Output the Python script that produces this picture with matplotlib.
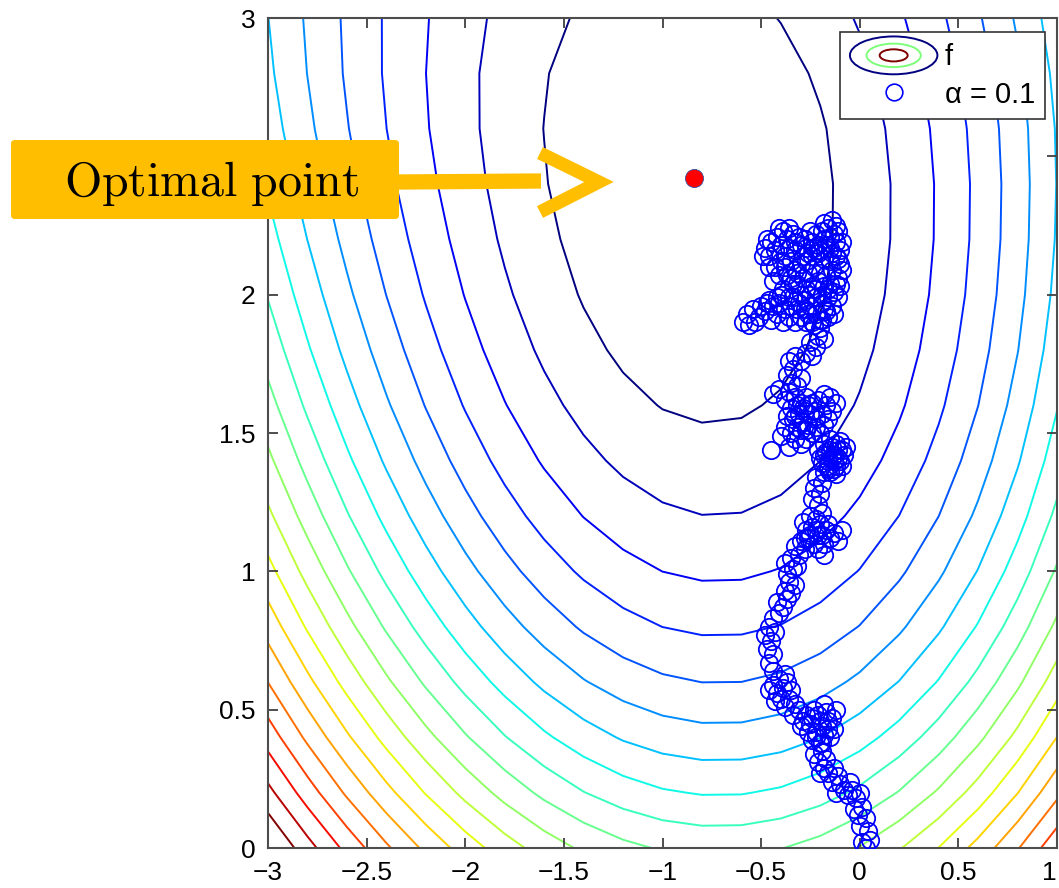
import numpy as np
import matplotlib
matplotlib.use("Agg")
import matplotlib.pyplot as plt
from matplotlib.legend_handler import HandlerBase
from matplotlib.patches import Ellipse, FancyBboxPatch
from matplotlib.lines import Line2D

plt.rcParams['font.family'] = ['Liberation Sans', 'DejaVu Sans']
plt.rcParams['mathtext.fontset'] = 'cm'

# ---------------- data ----------------
# surface f(x, y): ridge centre, curvature and vertical profile (level units)
x_grid = np.linspace(-3, 1, 21)
y_grid = np.linspace(0, 3, 16)
curv_coef = [2.5, -0.2, -0.0215]          # A(y) = c0 + c1*y + c2*y^2
ridge_coef = [-0.72, 0.0388, -0.0374]     # xc(y)
skew = 0.05
y_opt = 2.42
below_coef = [1.028, 0.26]
above_coef = 1.55
levels = [1, 2, 3, 4, 5, 6, 7, 8, 9, 10, 11, 12, 13, 14, 15, 16, 17, 18, 19, 20]

opt_x = [-0.839]
opt_y = [2.42]

traj_x = [0.03, 0.05, 0.01, 0.04, 0.00, 0.03, -0.01, 0.01, -0.03, -0.02, 0.00, -0.04, -0.06, -0.08,
          -0.05, -0.10, -0.12, -0.11, -0.14, -0.16, -0.13, -0.18, -0.20, -0.21, -0.17, -0.19, -0.23,
          -0.20, -0.24, -0.18, -0.15, -0.13, -0.16, -0.19, -0.22, -0.25, -0.21, -0.17, -0.14, -0.12,
          -0.18, -0.23, -0.27, -0.29, -0.26, -0.30,
          -0.20, -0.16, -0.24, -0.22, -0.19,
          -0.31, -0.34, -0.33, -0.36, -0.38, -0.40, -0.42, -0.39, -0.44, -0.41, -0.37, -0.35, -0.43,
          -0.46, -0.38,
          -0.44, -0.46, -0.44, -0.47, -0.45, -0.48, -0.46, -0.43, -0.44, -0.41, -0.42, -0.39, -0.37,
          -0.38, -0.35, -0.36, -0.33, -0.37, -0.34, -0.38, -0.35, -0.32,
          -0.31, -0.28, -0.30, -0.26, -0.23, -0.21, -0.24, -0.27, -0.20, -0.17, -0.15, -0.18, -0.13,
          -0.09, -0.11, -0.22, -0.25, -0.19, -0.29, -0.33,
          -0.25, -0.22, -0.19, -0.16, -0.28, -0.21, -0.18,
          -0.21, -0.24, -0.20, -0.23, -0.19, -0.22, -0.18,
          -0.15, -0.12, -0.10, -0.13, -0.16, -0.19, -0.17, -0.14, -0.11, -0.08, -0.09, -0.12, -0.07,
          -0.10, -0.15, -0.18, -0.21, -0.20, -0.13, -0.16,
          -0.14, -0.11, -0.18, -0.15, -0.12, -0.09, -0.16, -0.13,
          -0.24, -0.27, -0.30, -0.33, -0.36, -0.35, -0.32, -0.29, -0.26, -0.38, -0.40, -0.45, -0.37,
          -0.34, -0.31, -0.28,
          -0.22, -0.20, -0.18, -0.16, -0.23, -0.26, -0.29, -0.32, -0.35, -0.33, -0.30, -0.27,
          -0.25, -0.22, -0.19, -0.17, -0.14, -0.12, -0.15, -0.18, -0.21, -0.24, -0.27, -0.30, -0.33,
          -0.36, -0.38, -0.35, -0.32, -0.30, -0.44, -0.41,
          -0.37, -0.34, -0.36, -0.33, -0.30, -0.27, -0.24, -0.22, -0.25, -0.21, -0.18, -0.20, -0.23,
          -0.19, -0.17,
          -0.27, -0.30, -0.33, -0.36, -0.39, -0.42, -0.45, -0.48, -0.51, -0.54, -0.57, -0.59, -0.56,
          -0.53, -0.50, -0.47, -0.44, -0.41, -0.38, -0.35, -0.32,
          -0.28, -0.25, -0.22, -0.19, -0.16, -0.13, -0.15, -0.18, -0.21, -0.24, -0.27, -0.30, -0.32,
          -0.29, -0.26, -0.23, -0.20, -0.17, -0.14, -0.11, -0.10, -0.12, -0.15, -0.18, -0.21, -0.24,
          -0.27, -0.30, -0.33, -0.35, -0.38, -0.36, -0.33, -0.30, -0.27, -0.24, -0.21, -0.18, -0.15,
          -0.12, -0.10, -0.13, -0.16, -0.12, -0.19, -0.34, -0.37, -0.40, -0.43, -0.46, -0.48, -0.45,
          -0.42, -0.39, -0.36, -0.31, -0.40, -0.43, -0.37, -0.34, -0.39, -0.36, -0.31, -0.26, -0.22,
          -0.18, -0.14, -0.11, -0.10,
          -0.44, -0.41, -0.46, -0.38, -0.35, -0.32, -0.29, -0.26, -0.23, -0.20, -0.17, -0.14, -0.11,
          -0.09, -0.09, -0.12, -0.16, -0.19, -0.22, -0.25, -0.28, -0.34, -0.40, -0.42, -0.46, -0.25,
          -0.22, -0.28, -0.33, -0.41, -0.49, -0.47, -0.15, -0.18, -0.14, -0.11, -0.20, -0.24, -0.16,
          -0.13]
traj_y = [0.00, 0.03, 0.02, 0.06, 0.08, 0.11, 0.12, 0.15, 0.14, 0.18, 0.20, 0.21, 0.19, 0.21,
          0.24, 0.23, 0.20, 0.26, 0.24, 0.27, 0.29, 0.29, 0.27, 0.31, 0.32, 0.35, 0.34,
          0.38, 0.39, 0.41, 0.40, 0.43, 0.46, 0.44, 0.42, 0.45, 0.48, 0.49, 0.47, 0.50,
          0.52, 0.50, 0.48, 0.46, 0.42, 0.44,
          0.46, 0.43, 0.47, 0.40, 0.38,
          0.50, 0.48, 0.52, 0.54, 0.51, 0.54, 0.56, 0.58, 0.59, 0.61, 0.60, 0.57, 0.53,
          0.57, 0.63,
          0.64, 0.67, 0.70, 0.72, 0.75, 0.77, 0.80, 0.78, 0.83, 0.85, 0.89, 0.87, 0.90,
          0.93, 0.92, 0.96, 0.95, 0.99, 1.01, 1.03, 1.05, 1.02,
          1.06, 1.08, 1.11, 1.12, 1.10, 1.13, 1.16, 1.15, 1.17, 1.15, 1.12, 1.10, 1.14,
          1.15, 1.11, 1.19, 1.20, 1.21, 1.18, 1.09,
          1.13, 1.15, 1.13, 1.17, 1.12, 1.08, 1.06,
          1.24, 1.26, 1.28, 1.30, 1.32, 1.34, 1.36,
          1.36, 1.38, 1.40, 1.42, 1.40, 1.39, 1.43, 1.45, 1.44, 1.42, 1.38, 1.35, 1.45,
          1.47, 1.48, 1.46, 1.44, 1.41, 1.40, 1.37,
          1.41, 1.41, 1.42, 1.44, 1.46, 1.44, 1.38, 1.37,
          1.50, 1.48, 1.46, 1.48, 1.45, 1.50, 1.52, 1.54, 1.53, 1.52, 1.49, 1.44, 1.56,
          1.55, 1.57, 1.58,
          1.52, 1.50, 1.53, 1.55, 1.58, 1.60, 1.59, 1.60, 1.59, 1.56, 1.51, 1.51,
          1.57, 1.55, 1.57, 1.60, 1.58, 1.61, 1.63, 1.64, 1.62, 1.61, 1.63, 1.61, 1.63,
          1.65, 1.62, 1.68, 1.67, 1.70, 1.64, 1.66,
          1.71, 1.73, 1.76, 1.78, 1.76, 1.79, 1.78, 1.81, 1.83, 1.85, 1.84, 1.88, 1.89,
          1.91, 1.94,
          1.90, 1.92, 1.90, 1.92, 1.90, 1.93, 1.91, 1.94, 1.92, 1.95, 1.93, 1.90, 1.89,
          1.90, 1.96, 1.97, 1.96, 1.97, 1.95, 1.96, 1.95,
          1.98, 1.96, 1.99, 1.97, 1.99, 2.01, 2.04, 2.03, 2.05, 2.03, 2.02, 2.00, 2.04,
          2.06, 2.08, 2.10, 2.08, 2.07, 2.09, 2.06, 2.11, 2.14, 2.12, 2.13, 2.15, 2.14,
          2.12, 2.11, 2.09, 2.12, 2.14, 2.17, 2.16, 2.18, 2.17, 2.19, 2.18, 2.20, 2.17,
          2.19, 2.16, 2.22, 2.24, 2.25, 2.23, 2.22, 2.20, 2.18, 2.16, 2.14, 2.17, 2.19,
          2.21, 2.23, 2.24, 2.21, 2.12, 2.10, 2.07, 2.04, 2.02, 1.99, 1.97, 1.93, 1.93,
          1.95, 1.96, 1.99, 2.03,
          2.05, 2.07, 2.10, 2.10, 2.06, 2.08, 2.14, 2.15, 2.17, 2.16, 2.18, 2.15, 2.13,
          2.09, 2.19, 2.04, 2.02, 2.00, 2.02, 2.00, 1.95, 1.99, 2.00, 1.99, 1.98, 2.23,
          2.22, 2.20, 2.19, 2.24, 2.14, 2.20, 2.21, 2.26, 2.27, 2.23, 1.91, 1.90, 1.92,
          1.93]

xticks = [-3, -2.5, -2, -1.5, -1, -0.5, 0, 0.5, 1]
yticks = [0, 0.5, 1, 1.5, 2, 2.5, 3]
xtick_labels = ['\u22123', '\u22122.5', '\u22122', '\u22121.5', '\u22121', '\u22120.5', '0', '0.5', '1']
ytick_labels = ['0', '0.5', '1', '1.5', '2', '', '3']   # 2.5 is hidden behind the callout box
legend_labels = ['f', '\u03b1 = 0.1']
annot_text = r'$\mathrm{Optimal\ point}$'

# ---------------- figure ----------------
W, H = 1059, 888
fig = plt.figure(figsize=(W / 100, H / 100), dpi=100)
ax = fig.add_axes([268 / W, 1 - 848 / H, (1057 - 268) / W, (848 - 18) / H])

X, Y = np.meshgrid(x_grid, y_grid)
A = curv_coef[0] + curv_coef[1] * Y + curv_coef[2] * Y ** 2
XC = ridge_coef[0] + ridge_coef[1] * Y + ridge_coef[2] * Y ** 2
D = X - XC
U = y_opt - Y
Hy = np.where(U >= 0, below_coef[0] * U ** 2 + below_coef[1] * U ** 3, above_coef * U ** 2)
Z = A * D ** 2 * (1 + skew * D) + Hy

cmap = plt.get_cmap('jet')
line_colors = [cmap(i / (len(levels) - 1)) for i in range(len(levels))]
ax.contour(X, Y, Z, levels=levels, colors=line_colors, linewidths=1.4, zorder=1)

ax.plot(traj_x, traj_y, linestyle='none', marker='o', markersize=12.5, markerfacecolor='none',
        markeredgecolor='#0000ff', markeredgewidth=1.3, zorder=3)
ax.plot(opt_x, opt_y, linestyle='none', marker='o', markersize=13, markerfacecolor='#ff0000',
        markeredgecolor='#3050a0', markeredgewidth=0.6, zorder=4)

ax.set_xlim(-3, 1)
ax.set_ylim(0, 3)
ax.set_xticks(xticks)
ax.set_xticklabels(xtick_labels)
ax.set_yticks(yticks)
ax.set_yticklabels(ytick_labels)
ax.tick_params(direction='in', top=True, right=True, length=7, width=1.3, labelsize=19,
               pad=9, colors='0.25', labelcolor='black')
ax.get_xticklabels()[-1].set_horizontalalignment('right')
for s in ax.spines.values():
    s.set_color('0.3')
    s.set_linewidth(1.5)


class HandlerEllipses(HandlerBase):
    def create_artists(self, legend, orig_handle, xdescent, ydescent, width, height,
                       fontsize, trans):
        cx = width / 2 - xdescent
        cy = height / 2 - ydescent
        arts = []
        for s, c in zip([1.0, 0.62, 0.32], [cmap(0.0), cmap(0.5), cmap(1.0)]):
            arts.append(Ellipse((cx, cy), width * s, height * 1.45 * s, fill=False,
                                edgecolor=c, lw=1.4, transform=trans))
        return arts


h_f = Line2D([], [])
h_a = Line2D([], [], linestyle='none', marker='o', markersize=12, markerfacecolor='none',
             markeredgecolor='#0000ff', markeredgewidth=1.2)
leg = ax.legend([h_f, h_a], legend_labels, handler_map={h_f: HandlerEllipses()},
                loc='upper right', bbox_to_anchor=(0.985, 0.983), borderaxespad=0,
                fontsize=21, handlelength=3.0, handleheight=1.0, fancybox=False,
                edgecolor='0.2', framealpha=1, borderpad=0.35, labelspacing=0.3,
                handletextpad=0.25)
leg.get_frame().set_linewidth(1.2)

# ---------------- annotation ----------------
orange = '#ffbf00'
def fx(px):
    return px / W
def fy(py):
    return 1 - py / H

box = FancyBboxPatch((fx(11), fy(219)), fx(399) - fx(11), fy(140) - fy(219),
                     boxstyle='round,pad=0,rounding_size=0.004', facecolor=orange,
                     edgecolor='none', transform=fig.transFigure, zorder=5)
fig.add_artist(box)
fig.add_artist(Line2D([fx(398), fx(541)], [fy(182), fy(181)], color=orange, lw=11,
                      solid_capstyle='butt', transform=fig.transFigure, zorder=5))
fig.add_artist(Line2D([fx(540), fx(599), fx(540)], [fy(153), fy(182), fy(212)], color=orange,
                      lw=9.5, solid_capstyle='butt', solid_joinstyle='miter',
                      transform=fig.transFigure, zorder=5))
fig.text(fx(212), fy(184), annot_text, fontsize=34.5, ha='center',
         va='center', color='black', zorder=6)

fig.savefig('out.png', dpi=100)
